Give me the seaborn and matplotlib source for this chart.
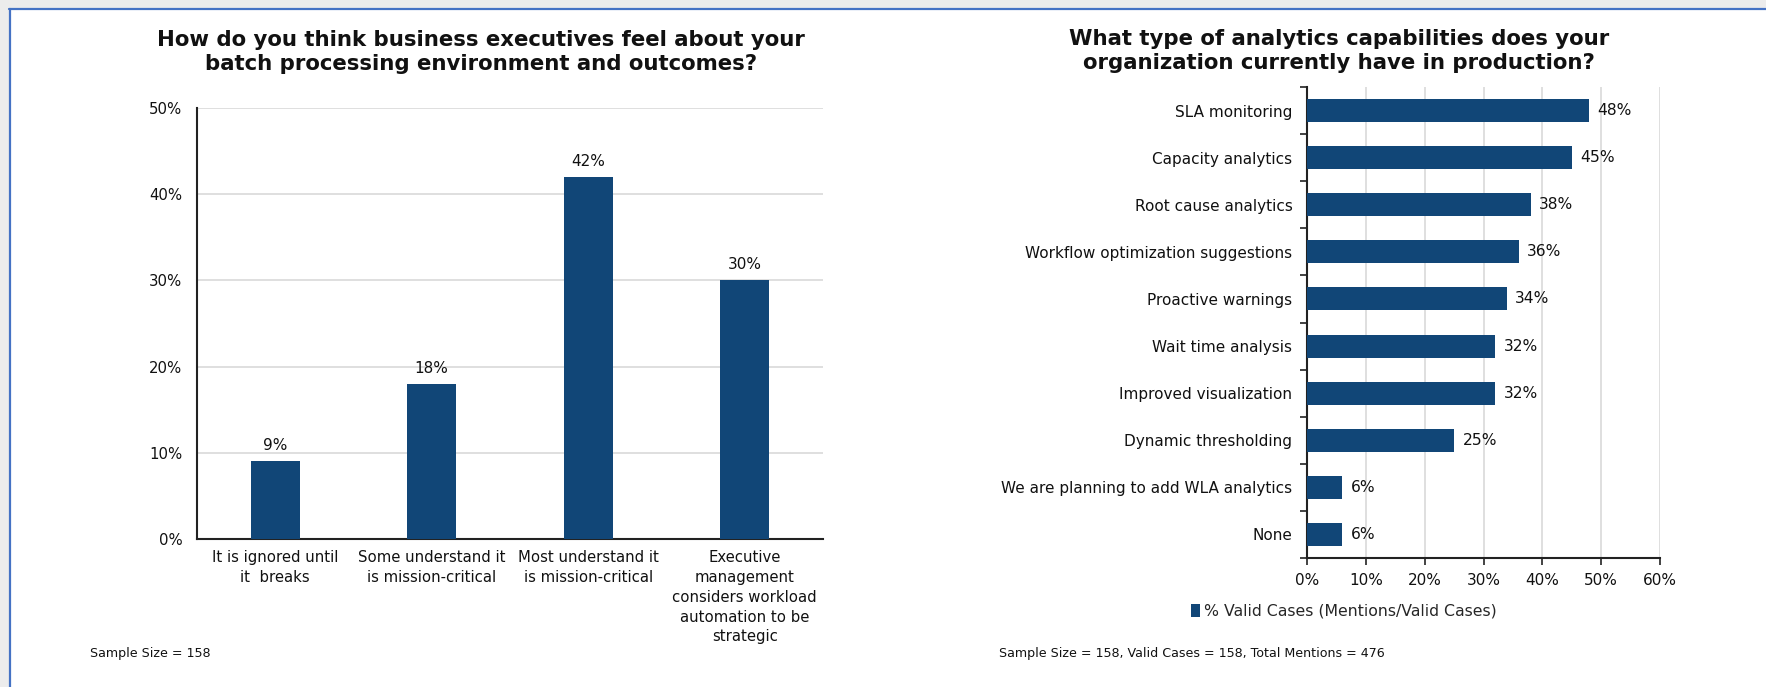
import matplotlib
matplotlib.use("Agg")
import matplotlib.pyplot as plt
import seaborn as sns
import pandas as pd
from matplotlib.patches import Rectangle
from matplotlib.lines import Line2D

# ---- data ----
left_title = "How do you think business executives feel about your\nbatch processing environment and outcomes?"
left_categories = [
    "It is ignored until\nit  breaks",
    "Some understand it\nis mission-critical",
    "Most understand it\nis mission-critical",
    "Executive\nmanagement\nconsiders workload\nautomation to be\nstrategic",
]
left_values = [9, 18, 42, 30]
left_yticks = [0, 10, 20, 30, 40, 50]

right_title = "What type of analytics capabilities does your\norganization currently have in production?"
right_categories = [
    "SLA monitoring",
    "Capacity analytics",
    "Root cause analytics",
    "Workflow optimization suggestions",
    "Proactive warnings",
    "Wait time analysis",
    "Improved visualization",
    "Dynamic thresholding",
    "We are planning to add WLA analytics",
    "None",
]
right_values = [48, 45, 38, 36, 34, 32, 32, 25, 6, 6]
right_xticks = [0, 10, 20, 30, 40, 50, 60]
legend_label = "% Valid Cases (Mentions/Valid Cases)"
left_note = "Sample Size = 158"
right_note = "Sample Size = 158, Valid Cases = 158, Total Mentions = 476"

BAR = "#114677"
GRID = "#d9d9d9"
W, H = 1766, 687

sns.set_theme(style="white")
plt.rcParams["font.family"] = ["DejaVu Sans"]

fig = plt.figure(figsize=(W / 100, H / 100), dpi=100)
fig.patch.set_facecolor("#ececec")
# white page with blue border on top/left
fig.add_artist(Rectangle((9 / W, 0), 1, 1 - 8 / H, transform=fig.transFigure,
                         facecolor="white", edgecolor="none", zorder=-10))
fig.add_artist(Line2D([9 / W, 1], [1 - 8.5 / H, 1 - 8.5 / H], transform=fig.transFigure,
                      color="#4472c4", lw=1.6))
fig.add_artist(Line2D([9.5 / W, 9.5 / W], [0, 1 - 8.5 / H], transform=fig.transFigure,
                      color="#4472c4", lw=1.6))

def px_axes(x0, y0, x1, y1):
    return fig.add_axes([x0 / W, 1 - y1 / H, (x1 - x0) / W, (y1 - y0) / H])

# ---- left chart ----
ax1 = px_axes(197, 108, 823, 539)
df1 = pd.DataFrame({"cat": left_categories, "val": left_values})
sns.barplot(data=df1, x="cat", y="val", color=BAR, width=0.31, saturation=1, ax=ax1,
            zorder=3, linewidth=0)
ax1.set_ylim(0, 50)
ax1.set_yticks(left_yticks)
ax1.set_yticklabels([f"{t}%" for t in left_yticks])
ax1.yaxis.grid(True, color=GRID, lw=1.2, zorder=0)
ax1.set_axisbelow(True)
for s in ["top", "right"]:
    ax1.spines[s].set_visible(False)
for s in ["left", "bottom"]:
    ax1.spines[s].set_color("#222222")
    ax1.spines[s].set_linewidth(1.5)
ax1.tick_params(axis="y", length=0, pad=10.5, labelsize=10.7, labelcolor="#111111")
ax1.tick_params(axis="x", length=0, pad=8, labelsize=10.7, labelcolor="#111111")
for lbl in ax1.get_xticklabels():
    lbl.set_linespacing(1.4)
ax1.set_xlabel("")
ax1.set_ylabel("")
ax1.bar_label(ax1.containers[0], labels=[f"{v}%" for v in left_values], padding=6,
              fontsize=11, color="#111111")
fig.text(481 / W, 1 - 52 / H, left_title, ha="center", va="center", fontsize=15.3,
         fontweight="bold", color="#111111", linespacing=1.3)
fig.text(90 / W, 1 - 653 / H, left_note, ha="left", va="center", fontsize=9.1, color="#111111")

# ---- right chart ----
ax2 = px_axes(1307, 87, 1660, 558)
df2 = pd.DataFrame({"cat": right_categories, "val": right_values})
sns.barplot(data=df2, x="val", y="cat", orient="h", color=BAR, width=0.49, saturation=1,
            ax=ax2, zorder=3, label=legend_label, linewidth=0)
ax2.set_xlim(0, 60)
ax2.set_ylim(len(right_categories) - 0.5, -0.5)
ax2.set_xticks(right_xticks)
ax2.set_xticklabels([f"{t}%" for t in right_xticks])
ax2.set_yticks(range(len(right_categories)))
ax2.set_yticks([i - 0.5 for i in range(len(right_categories) + 1)], minor=True)
ax2.xaxis.grid(True, color=GRID, lw=1.2, zorder=0)
ax2.set_axisbelow(True)
for s in ["top", "right"]:
    ax2.spines[s].set_visible(False)
for s in ["left", "bottom"]:
    ax2.spines[s].set_color("#222222")
    ax2.spines[s].set_linewidth(1.5)
ax2.tick_params(axis="y", which="major", length=0, pad=10.5, labelsize=11, labelcolor="#111111")
ax2.tick_params(axis="y", which="minor", left=True, length=5, width=1.2, color="#222222")
ax2.tick_params(axis="x", bottom=True, length=5, width=1.2, color="#222222", pad=6,
                labelsize=11, labelcolor="#111111")
ax2.set_xlabel("")
ax2.set_ylabel("")
ax2.bar_label(ax2.containers[0], labels=[f"{v}%" for v in right_values], padding=6,
              fontsize=11.2, color="#111111")
leg = ax2.legend(loc="center", bbox_to_anchor=((1344 - 1307) / (1660 - 1307), -(611 - 558) / (558 - 87)),
                 frameon=False, fontsize=11.3, handlelength=0.55, handleheight=0.9,
                 handletextpad=0.3)
fig.text(1339 / W, 1 - 51 / H, right_title, ha="center", va="center", fontsize=15.3,
         fontweight="bold", color="#111111", linespacing=1.3)
fig.text(999 / W, 1 - 653 / H, right_note, ha="left", va="center", fontsize=9.1, color="#111111")

fig.savefig("out.png", dpi=100)
